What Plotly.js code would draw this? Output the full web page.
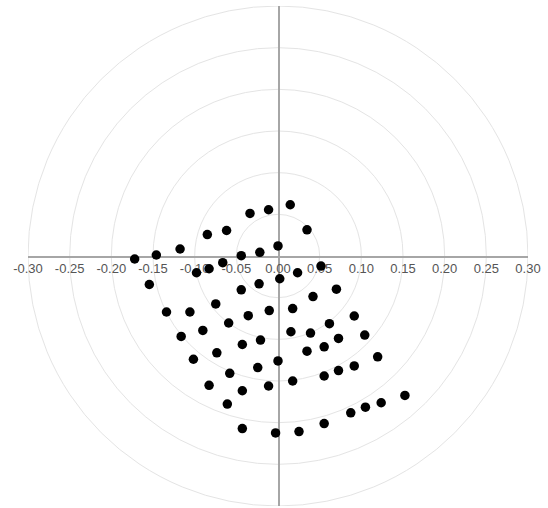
<!DOCTYPE html>
<html>
<head>
<meta charset="utf-8">
<script src="https://cdn.plot.ly/plotly-3.0.1.min.js"></script>
<style>html,body{margin:0;padding:0;background:#fff;}#chart{width:548px;height:508px;}</style>
</head>
<body>
<div id="chart"></div>
<script>
// Point coordinates
const xVals = [0.0147, -0.0113, -0.0336, 0.0348, -0.0617, -0.0848, -0.1175, 0.0000, -0.0218, -0.0441,
  -0.1460, -0.1720, -0.0663, -0.0827, -0.0978, 0.0516, 0.0235, 0.0021, -0.0227, -0.1544,
  -0.0441, 0.0701, 0.0420, -0.0747, -0.1338, -0.1057, -0.0105, 0.0176, -0.0357, 0.0915,
  -0.0592, 0.0617, -0.0902, 0.0155, 0.0390, 0.1041, -0.1162, 0.0726, -0.0210, -0.0428,
  0.0554, 0.0348, -0.0734, 0.1196, -0.1015, 0.0000, -0.0243, 0.0915, 0.0726, -0.0579,
  0.0554, 0.0176, -0.0827, -0.0113, -0.0428, 0.1523, 0.1238, 0.1049, -0.0608, 0.0873,
  0.0554, -0.0428, 0.0252, -0.0029];
const yVals = [0.0615, 0.0555, 0.0511, 0.0314, 0.0306, 0.0257, 0.0084, 0.0121, 0.0044, 0.0004,
  0.0012, -0.0036, -0.0080, -0.0153, -0.0201, -0.0121, -0.0201, -0.0273, -0.0334, -0.0342,
  -0.0406, -0.0398, -0.0487, -0.0575, -0.0672, -0.0672, -0.0655, -0.0631, -0.0716, -0.0720,
  -0.0804, -0.0812, -0.0893, -0.0909, -0.0925, -0.0949, -0.0965, -0.0989, -0.1009, -0.1062,
  -0.1090, -0.1142, -0.1162, -0.1210, -0.1239, -0.1259, -0.1339, -0.1319, -0.1375, -0.1408,
  -0.1440, -0.1500, -0.1552, -0.1560, -0.1617, -0.1673, -0.1761, -0.1814, -0.1777, -0.1882,
  -0.2011, -0.2071, -0.2107, -0.2123];
const ringRadii = [0.05, 0.10, 0.15, 0.20, 0.25, 0.30];
const tickValues = [-0.30, -0.25, -0.20, -0.15, -0.10, -0.05, 0.00, 0.05, 0.10, 0.15, 0.20, 0.25, 0.30];

const shapes = ringRadii.map(r => ({
  type: 'circle', xref: 'x', yref: 'y', layer: 'below',
  x0: -r, x1: r, y0: -r, y1: r,
  line: {color: '#e4e4e4', width: 1}
}));

const trace = {
  x: xVals, y: yVals, type: 'scatter', mode: 'markers',
  marker: {color: '#000', size: 9.5},
  hoverinfo: 'x+y', showlegend: false
};

const layout = {
  width: 548, height: 508,
  margin: {l: 28, r: 20, t: 6, b: 2},
  paper_bgcolor: '#fff', plot_bgcolor: '#fff',
  showlegend: false,
  xaxis: {
    range: [-0.3, 0.3], anchor: 'free', position: 0.5,
    showgrid: false, zeroline: false, showline: true, linecolor: '#a6a6a6', linewidth: 1.5,
    tickmode: 'array', tickvals: tickValues, ticktext: tickValues.map(v => v.toFixed(2)),
    ticks: '', ticklen: 0, layer: 'below traces',
    tickfont: {family: 'Liberation Sans, Arial, sans-serif', size: 13, color: '#555'}
  },
  yaxis: {
    range: [-0.3, 0.3], anchor: 'free', position: 0.5,
    showgrid: false, zeroline: false, showline: true, linecolor: '#a6a6a6', linewidth: 1.5,
    showticklabels: false, ticks: '', layer: 'below traces'
  },
  shapes: shapes
};

Plotly.newPlot('chart', [trace], layout, {displayModeBar: false, staticPlot: true});
</script>
</body>
</html>
